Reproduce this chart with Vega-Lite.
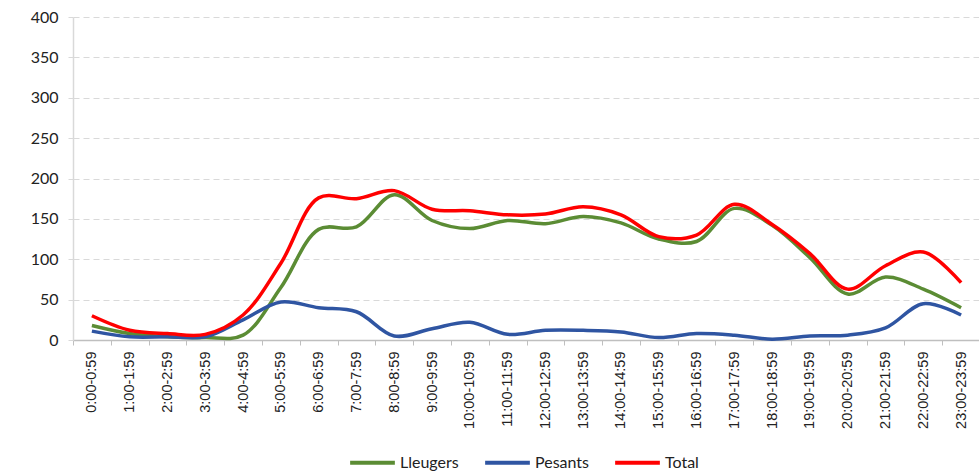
{
  "$schema": "https://vega.github.io/schema/vega-lite/v6.json",
  "autosize": {"type": "none"},
  "width": 907,
  "height": 323,
  "padding": {"left": 73, "top": 17, "right": 0, "bottom": 132},
  "background": "white",
  "config": {"view": {"stroke": null}},
  "data": {"values": [
    {"h":"0:00-0:59","i":0,"Lleugers":18,"Pesants":11,"Total":30},
    {"h":"1:00-1:59","i":1,"Lleugers":8,"Pesants":4,"Total":12},
    {"h":"2:00-2:59","i":2,"Lleugers":4,"Pesants":4,"Total":8},
    {"h":"3:00-3:59","i":3,"Lleugers":3,"Pesants":4,"Total":7},
    {"h":"4:00-4:59","i":4,"Lleugers":6,"Pesants":25,"Total":31},
    {"h":"5:00-5:59","i":5,"Lleugers":65,"Pesants":47,"Total":95},
    {"h":"6:00-6:59","i":6,"Lleugers":137,"Pesants":40,"Total":176},
    {"h":"7:00-7:59","i":7,"Lleugers":140,"Pesants":35,"Total":175},
    {"h":"8:00-8:59","i":8,"Lleugers":180,"Pesants":5,"Total":185},
    {"h":"9:00-9:59","i":9,"Lleugers":148,"Pesants":14,"Total":162},
    {"h":"10:00-10:59","i":10,"Lleugers":138,"Pesants":22,"Total":160},
    {"h":"11:00-11:59","i":11,"Lleugers":148,"Pesants":7,"Total":155},
    {"h":"12:00-12:59","i":12,"Lleugers":144,"Pesants":12,"Total":156},
    {"h":"13:00-13:59","i":13,"Lleugers":153,"Pesants":12,"Total":165},
    {"h":"14:00-14:59","i":14,"Lleugers":145,"Pesants":10,"Total":155},
    {"h":"15:00-15:59","i":15,"Lleugers":125,"Pesants":3,"Total":128},
    {"h":"16:00-16:59","i":16,"Lleugers":122,"Pesants":8,"Total":130},
    {"h":"17:00-17:59","i":17,"Lleugers":163,"Pesants":6,"Total":168},
    {"h":"18:00-18:59","i":18,"Lleugers":142,"Pesants":1,"Total":143},
    {"h":"19:00-19:59","i":19,"Lleugers":102,"Pesants":5,"Total":107},
    {"h":"20:00-20:59","i":20,"Lleugers":57,"Pesants":6,"Total":63},
    {"h":"21:00-21:59","i":21,"Lleugers":78,"Pesants":15,"Total":92},
    {"h":"22:00-22:59","i":22,"Lleugers":63,"Pesants":45,"Total":109},
    {"h":"23:00-23:59","i":23,"Lleugers":40,"Pesants":31,"Total":71}
  ]},
  "transform": [{"fold": ["Lleugers", "Pesants", "Total"], "as": ["serie", "valor"]}],
  "mark": {"type": "line", "interpolate": "catmull-rom", "strokeWidth": 3.5},
  "encoding": {
    "x": {
      "field": "h", "type": "ordinal",
      "sort": {"field": "i"},
      "scale": {"paddingInner": 0, "paddingOuter": 0},
      "axis": {
        "title": null,
        "labelAngle": -90,
        "labelAlign": "right",
        "labelBaseline": "middle",
        "labelFont": "Liberation Sans",
        "labelFontSize": 14.5,
        "labelColor": "#222222",
        "labelPadding": 6,
        "tickBand": "extent",
        "tickSize": 5,
        "tickColor": "#bfbfbf",
        "domainColor": "#bfbfbf",
        "domainWidth": 1.5,
        "grid": false
      }
    },
    "y": {
      "field": "valor", "type": "quantitative",
      "scale": {"domain": [0, 400], "nice": false},
      "axis": {
        "title": null,
        "values": [0, 50, 100, 150, 200, 250, 300, 350, 400],
        "labelFont": "Lato",
        "labelFontSize": 16,
        "labelColor": "#222222",
        "labelPadding": 10,
        "tickSize": 5,
        "tickColor": "#d9d9d9",
        "domainColor": "#d9d9d9",
        "domainWidth": 1.5,
        "grid": true,
        "gridColor": "#d9d9d9",
        "gridDash": [6, 4],
        "gridWidth": 1
      }
    },
    "color": {
      "field": "serie", "type": "nominal",
      "scale": {"domain": ["Lleugers", "Pesants", "Total"], "range": ["#5B8C34", "#2F55A2", "#FF0000"]},
      "legend": {
        "title": null,
        "orient": "none",
        "direction": "horizontal",
        "legendX": 275,
        "legendY": 421,
        "symbolType": "stroke",
        "symbolSize": 2000,
        "symbolStrokeWidth": 4,
        "labelFont": "Lato",
        "labelFontSize": 16,
        "labelColor": "#222222",
        "labelOffset": 3,
        "columnPadding": 18
      }
    }
  }
}
